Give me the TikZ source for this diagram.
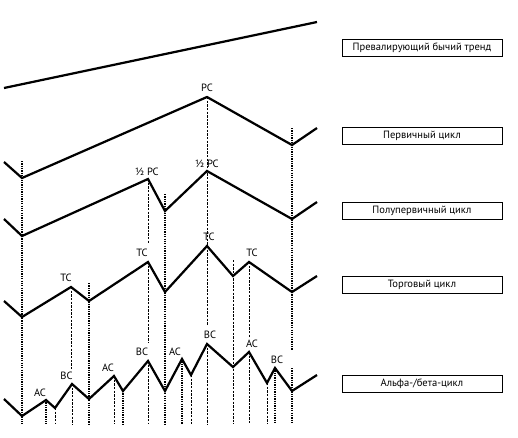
\documentclass[tikz,border=0pt]{standalone}
\usepackage{fontspec}
\setmainfont{PT Sans}
\usepackage{tikz}
\usetikzlibrary{positioning}

\begin{document}
\begin{tikzpicture}[
    x=0.03cm, y=-0.03cm,
    wave/.style={line width=1.9pt, line join=miter},
    major/.style={line width=1.2pt, dash pattern=on 1.1pt off 0.9pt},
    minor/.style={line width=0.55pt, dash pattern=on 2pt off 1.1pt},
    tag/.style={inner sep=0pt, font=\fontsize{9}{10}\selectfont},
    legend/.style={draw, line width=0.7pt, minimum width=4.8cm, minimum height=0.51cm, inner sep=0pt, font=\fontsize{9}{10}\selectfont}
]
  \useasboundingbox (0,0) rectangle (518,438);
  \coordinate (base) at (0,424);

  % Prevailing trend
  \draw[wave] (4,88) coordinate (trA) -- (317,22) coordinate (trB);

  % Primary cycle
  \draw[wave] (4,162) -- (22,178) coordinate (p1) -- (207,97) coordinate (pPC)
      -- (292,145) coordinate (p2) -- (317,128);
  \node[tag] (lPC) at (207,88) {PC};

  % Semi-primary cycle
  \draw[wave] (4,219) -- (22,236) -- (148,179) coordinate (sA)
      -- (165,211) coordinate (sT) -- (207,171) coordinate (sB)
      -- (292,219) -- (317,202);
  \node[tag] (lsA) at (147,172) {½ PC};
  \node[tag] (lsB) at (207,164) {½ PC};

  % Trading cycle
  \draw[wave] (4,301) -- (22,317) -- (71,287) coordinate (tA)
      -- (89,301) coordinate (tT1) -- (148,262) coordinate (tB)
      -- (165,292) -- (207,246) coordinate (tC)
      -- (233,276) coordinate (tT2) -- (249,262) coordinate (tD)
      -- (292,292) -- (317,276);
  \node[tag] (ltA) at (66,278) {TC};
  \node[tag] (ltB) at (142,253) {TC};
  \node[tag] (ltC) at (209,237) {TC};
  \node[tag] (ltD) at (252,253) {TC};

  % Alpha/beta cycle
  \draw[wave] (4,399) -- (22,416) -- (46,400) coordinate (a1)
      -- (55,408) coordinate (a2) -- (72,384) coordinate (a3)
      -- (89,399) -- (114,376) coordinate (a4)
      -- (123,391) coordinate (a5) -- (148,361) coordinate (a6)
      -- (165,391) -- (182,359) coordinate (a7)
      -- (191,375) coordinate (a8) -- (207,344) coordinate (a9)
      -- (233,367) -- (249,352) coordinate (a10)
      -- (267,383) coordinate (a11) -- (275,368) coordinate (a12)
      -- (292,391) -- (317,375);
  \node[tag] (la1) at (40,393) {AC};
  \node[tag] (la3) at (66.5,376) {BC};
  \node[tag] (la4) at (108,368) {AC};
  \node[tag] (la6) at (142,352) {BC};
  \node[tag] (la7) at (175,352) {AC};
  \node[tag] (la9) at (210,335) {BC};
  \node[tag] (la10) at (252,344) {AC};
  \node[tag] (la12) at (277,360) {BC};

  % Thick dotted verticals (troughs)
  \draw[major] (22,161) -- (22,424);
  \draw[major] (89,283) -- (89,424);
  \draw[major] (165,194) -- (165,424);
  \draw[major] (292,128) -- (292,350);
  \draw[major] (292,368) -- (292,424);
  \foreach \c in {a1,a5,a7,a12}
    \draw[major] (\c) -- (\c |- base);

  % Thin dashed verticals (peaks)
  \draw[minor] (pPC) -- (207,325);
  \draw[minor] (a9) -- (a9 |- base);
  \draw[minor] (sA) -- (148,243);
  \draw[minor] (tB) -- (148,342);
  \draw[minor] (a6) -- (a6 |- base);
  \draw[minor] (tA) -- (71,370);
  \draw[minor] (a3) -- (a3 |- base);
  \draw[minor] (233,260) -- (233,424);
  \draw[minor] (tD) -- (249,338);
  \draw[minor] (a10) -- (a10 |- base);
  \foreach \c in {a2,a4,a8,a11}
    \draw[minor] (\c) -- (\c |- base);

  % Legend boxes
  \node[legend] (bTrend) at (422,47.5) {Превалирующий бычий тренд};
  \node[legend] (bPrim) at (422,136) {Первичный цикл};
  \node[legend] (bSemi) at (422,210.5) {Полупервичный цикл};
  \node[legend] (bTrade) at (422,285) {Торговый цикл};
  \node[legend] (bAlpha) at (422,383.5) {Альфа-/бета-цикл};
\end{tikzpicture}
\end{document}
